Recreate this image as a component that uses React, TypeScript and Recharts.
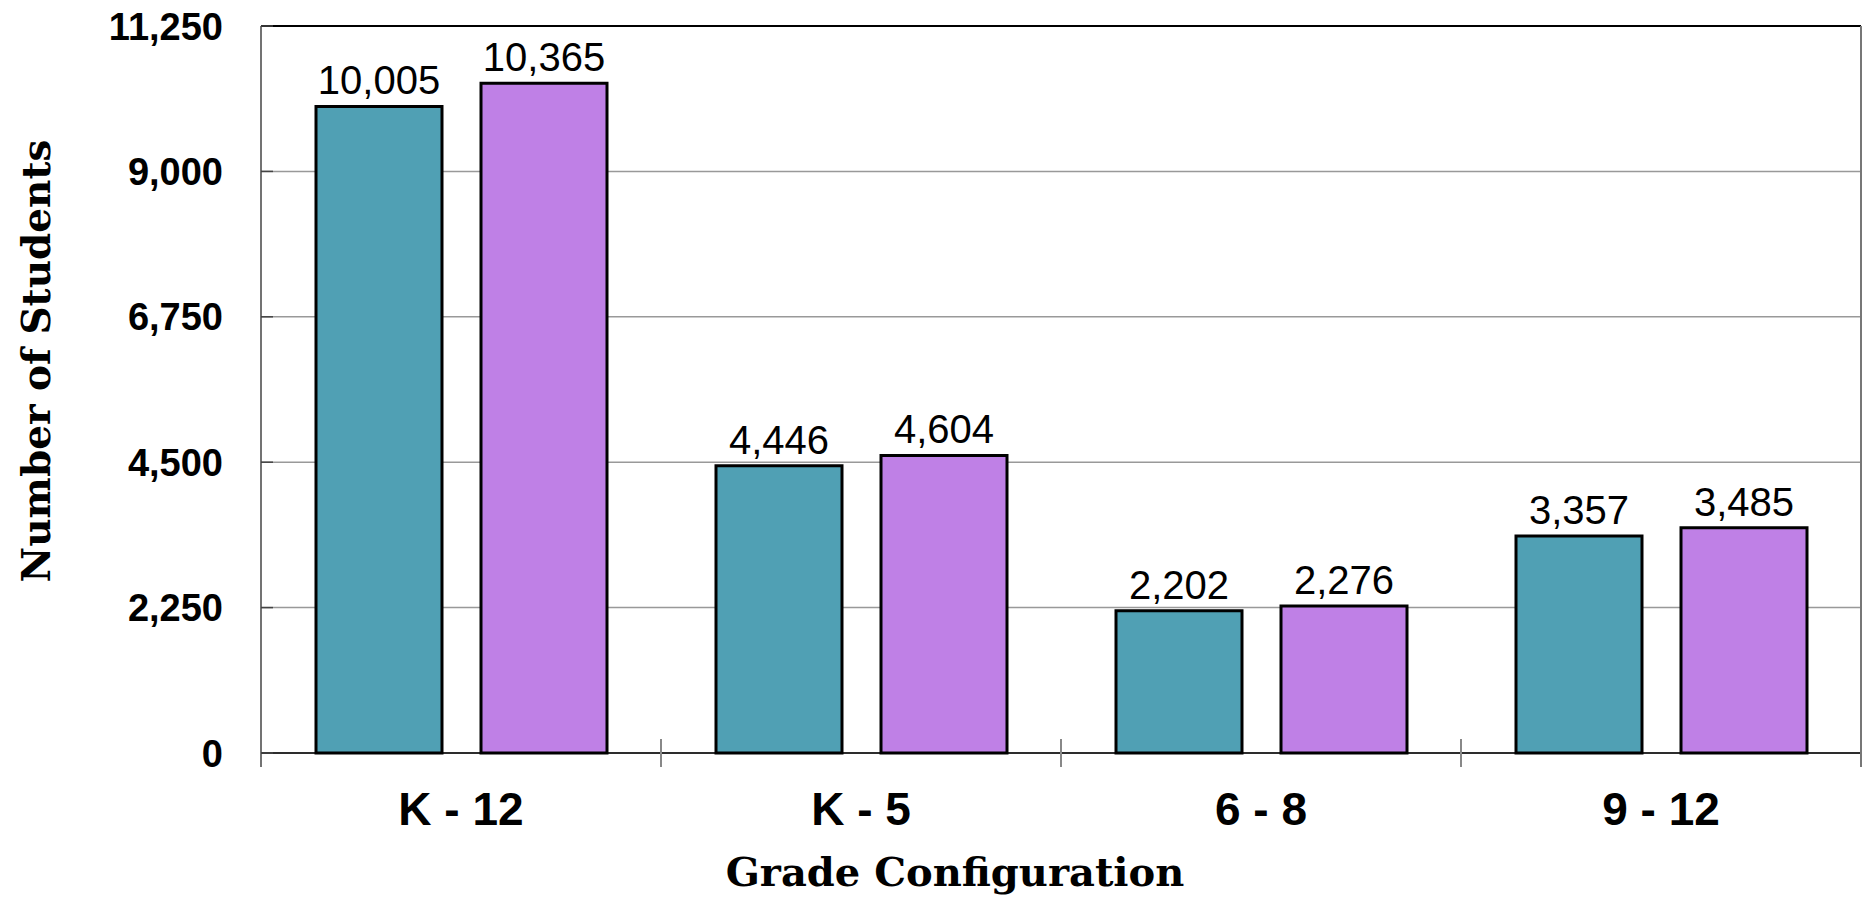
import { BarChart, Bar, XAxis, YAxis, CartesianGrid, LabelList, ReferenceLine } from 'recharts';

const grades = ['K - 12', 'K - 5', '6 - 8', '9 - 12'];
const firstCount = [10005, 4446, 2202, 3357];
const secondCount = [10365, 4604, 2276, 3485];
const yTicks = [0, 2250, 4500, 6750, 9000, 11250];

const data = grades.map((grade, i) => ({
  grade,
  first: firstCount[i],
  second: secondCount[i],
}));

const W = 1868;
const H = 910;
const M = { top: 26, right: 7, bottom: 0, left: 0 };
const Y_W = 261;
const BAND = (W - M.left - M.right - Y_W) / grades.length;

const SANS = 'Arial, "Liberation Sans", sans-serif';
const SERIF = '"DejaVu Serif", serif';
const Y_MARGIN = 38;
const X_MARGIN = 39;
const REACH = 14;

const fmt = (v: number) => v.toLocaleString('en-US');

function YTick({ x, y, payload }: any) {
  return (
    <g>
      <line x1={x + Y_MARGIN} x2={x + Y_MARGIN + 12} y1={y} y2={y} stroke="#444" strokeWidth={1.5} />
      <text x={x} y={y} dy="0.36em" textAnchor="end" fontFamily={SANS} fontWeight="bold" fontSize={38} fill="#000">
        {fmt(payload.value)}
      </text>
    </g>
  );
}

// category label plus the boundary ticks between groups; the last one also draws the right frame edge
function XTick({ x, y, payload, index }: any) {
  const base = y - X_MARGIN;
  const left = x - BAND / 2;
  const right = x + BAND / 2;
  const last = index === grades.length - 1;
  return (
    <g>
      {index === 0 ? (
        <line x1={left} x2={left} y1={base} y2={base + REACH} stroke="#444" strokeWidth={1.5} />
      ) : (
        <line x1={left} x2={left} y1={base - REACH} y2={base + REACH} stroke="#888" strokeWidth={2} />
      )}
      {last && <line x1={right} x2={right} y1={M.top} y2={base + REACH} stroke="#777" strokeWidth={2} />}
      <text x={x} y={y} dy="0.71em" textAnchor="middle" fontFamily={SANS} fontWeight="bold" fontSize={46} fill="#000">
        {payload.value}
      </text>
    </g>
  );
}

export default function App() {
  return (
    <div style={{ position: 'absolute', left: 0, top: 0 }}>
      <BarChart width={W} height={H} data={data} margin={M} barCategoryGap="13.75%" barGap={39}>
        <CartesianGrid vertical={false} stroke="#999" strokeWidth={1.5} />
        <XAxis
          dataKey="grade"
          height={157}
          interval={0}
          tickLine={false}
          tickSize={0}
          tickMargin={X_MARGIN}
          axisLine={{ stroke: '#000', strokeWidth: 1.5 }}
          tick={<XTick />}
          label={{
            content: () => (
              <text x={955} y={886} textAnchor="middle" fontFamily={SERIF} fontWeight="bold" fontSize={40} fill="#000">
                Grade Configuration
              </text>
            ),
          }}
        />
        <YAxis
          width={Y_W}
          domain={[0, 11250]}
          ticks={yTicks}
          interval={0}
          axisLine={{ stroke: '#444', strokeWidth: 1.5 }}
          tickLine={false}
          tickSize={0}
          tickMargin={Y_MARGIN}
          tick={<YTick />}
          label={{
            content: () => (
              <text
                x={50}
                y={361}
                transform="rotate(-90, 50, 361)"
                textAnchor="middle"
                fontFamily={SERIF}
                fontWeight="bold"
                fontSize={39}
                fill="#000"
              >
                Number of Students
              </text>
            ),
          }}
        />
        <ReferenceLine y={11250} stroke="#000" strokeWidth={2} />
        <Bar dataKey="first" fill="#50A0B4" stroke="#000" strokeWidth={3} isAnimationActive={false}>
          <LabelList dataKey="first" position="top" offset={12} formatter={fmt} fontFamily={SANS} fontSize={40} fill="#000" />
        </Bar>
        <Bar dataKey="second" fill="#BF80E6" stroke="#000" strokeWidth={3} isAnimationActive={false}>
          <LabelList dataKey="second" position="top" offset={12} formatter={fmt} fontFamily={SANS} fontSize={40} fill="#000" />
        </Bar>
      </BarChart>
    </div>
  );
}
